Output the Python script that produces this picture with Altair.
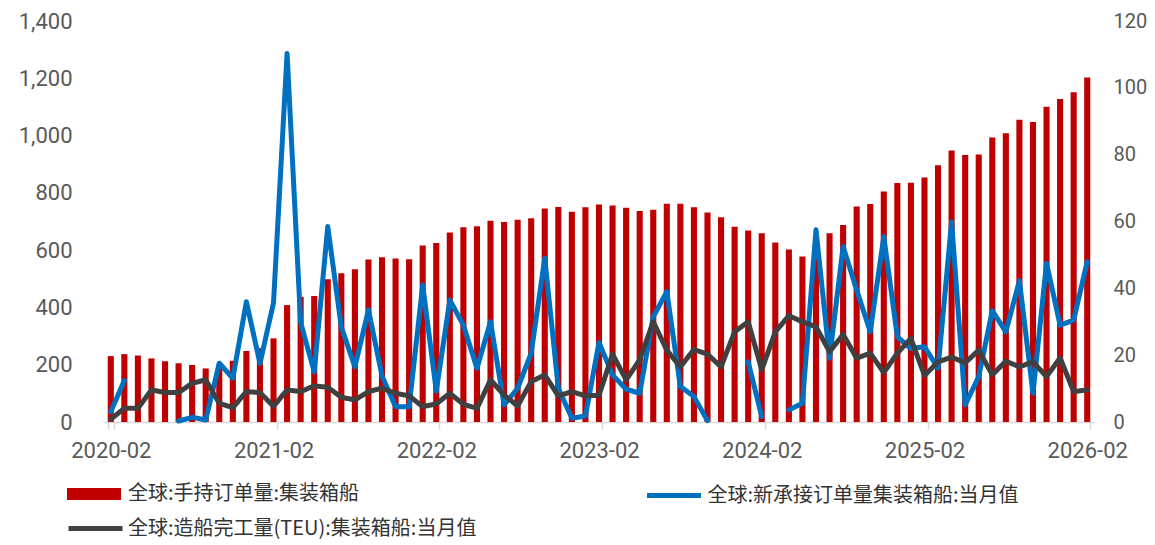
import altair as alt
import pandas as pd

months = [f"{y}-{m:02d}" for y in range(2020, 2027) for m in range(1, 13)][1:74]
tick_labels = ["2020-02", "2021-02", "2022-02", "2023-02", "2024-02", "2025-02", "2026-02"]

hold = [230, 237, 232, 222, 212, 205, 199, 187, 200, 214, 248, 258, 292,
        408, 437, 440, 498, 519, 533, 567, 575, 571, 568, 616, 625,
        662, 680, 683, 703, 698, 706, 711, 745, 751, 734, 750, 759,
        756, 748, 737, 741, 762, 762, 750, 731, 715, 682, 669, 659,
        627, 602, 578, 600, 659, 688, 752, 761, 805, 834, 835, 854,
        896, 948, 932, 934, 993, 1008, 1055, 1047, 1101, 1128, 1151, 1203]

new_orders = [3.1, 12.4, None, None, None, 0.3, 1.4, 0.6, 17.6, 13.1, 36.0, 17.5, 35.7,
              110.3, 29.8, 15.0, 58.5, 28.4, 16.5, 33.6, 13.8, 4.6, 4.6, 41.0, 9.3,
              36.5, 29.0, 16.1, 30.0, 5.1, 10.1, 20.6, 49.0, 10.1, 1.1, 1.8, 23.8,
              14.1, 9.8, 8.6, 31.5, 39.0, 10.6, 7.6, 0.4, None, None, 18.0, 1.6,
              None, 3.6, 5.6, 57.5, 19.1, 52.5, 39.5, 27.0, 55.5, 25.5, 22.0, 22.5,
              16.1, 59.9, 5.1, 13.6, 33.3, 27.0, 42.3, 8.6, 47.5, 29.0, 30.5, 48.0]

completions = [0.8, 4.1, 4.1, 9.6, 8.8, 8.8, 11.6, 12.6, 5.6, 4.3, 9.1, 8.8, 4.7,
               9.6, 9.1, 10.8, 10.4, 7.4, 6.6, 9.1, 10.1, 8.6, 7.8, 4.6, 5.4,
               8.6, 5.3, 4.1, 12.6, 8.1, 4.8, 12.1, 14.1, 7.8, 9.1, 7.8, 8.0,
               20.3, 12.6, 18.6, 30.0, 21.5, 16.5, 21.7, 20.3, 16.5, 27.0, 30.0, 15.6,
               27.0, 31.8, 30.0, 28.5, 21.0, 26.2, 19.1, 20.6, 14.8, 20.6, 25.0, 13.9,
               18.0, 19.4, 17.7, 21.5, 14.1, 18.2, 16.5, 18.0, 13.6, 19.2, 9.1, 9.6]

names = ["全球:手持订单量:集装箱船",
         "全球:新承接订单量集装箱船:当月值",
         "全球:造船完工量(TEU):集装箱船:当月值"]
colors = ["#C00000", "#0070C0", "#404040"]

bar_df = pd.DataFrame({"month": months, "value": hold, "s1": names[0]})
blue_df = pd.DataFrame({"month": months, "value": new_orders, "s2": names[1]})
gray_df = pd.DataFrame({"month": months, "value": completions, "s3": names[2]})

AXIS_FONT = "Roboto"
LABEL_COLOR = "#595959"
LEG_FONT = "Noto Sans CJK SC"

x_enc = alt.X(
    "month:O", sort=months, title=None,
    scale=alt.Scale(paddingInner=0.55, paddingOuter=0.275),
    axis=alt.Axis(values=tick_labels, labelAngle=0, tickBand="extent",
                  domainColor="#D9D9D9", domainWidth=1.5, tickColor="#D9D9D9",
                  tickWidth=1.5, tickSize=7, labelPadding=11, labelFont=AXIS_FONT,
                  labelFontSize=22, labelColor=LABEL_COLOR, grid=False),
)

rect_path = "M-3,-0.667H3V0.667H-3Z"
line_path = "M-3,0H3"
leg_common = dict(title=None, orient="none", symbolSize=324, labelFont=LEG_FONT,
                  labelFontSize=20, labelColor="#333333", labelLimit=800, padding=0)

right_axis = alt.Axis(orient="right", values=list(range(0, 121, 20)), domain=False,
                      ticks=False, grid=False, labelPadding=19, labelFont=AXIS_FONT,
                      labelFontSize=20, labelColor=LABEL_COLOR)

bars = alt.Chart(bar_df).mark_bar().encode(
    x=x_enc,
    y=alt.Y("value:Q", title=None, scale=alt.Scale(domain=[0, 1400]),
            axis=alt.Axis(values=list(range(0, 1401, 200)), format=",d", domain=False,
                          ticks=False, grid=False, labelPadding=32, labelFont=AXIS_FONT,
                          labelFontSize=22, labelColor=LABEL_COLOR)),
    color=alt.Color("s1:N", scale=alt.Scale(domain=[names[0]], range=[colors[0]]),
                    legend=alt.Legend(legendX=-20, legendY=463, symbolType=rect_path,
                                      symbolStrokeWidth=0, labelOffset=24, **leg_common)),
)

blue = alt.Chart(blue_df).mark_line(
    strokeWidth=5, strokeJoin="round", strokeCap="round",
    invalid="break-paths-show-domains",
).encode(
    x=x_enc,
    y=alt.Y("value:Q", title=None, scale=alt.Scale(domain=[0, 120]), axis=right_axis),
    stroke=alt.Stroke("s2:N", scale=alt.Scale(domain=[names[1]], range=[colors[1]]),
                      legend=alt.Legend(legendX=558.5, legendY=463, symbolType=line_path,
                                        symbolStrokeWidth=5, labelOffset=22, **leg_common)),
)

gray = alt.Chart(gray_df).mark_line(
    strokeWidth=5, strokeJoin="round", strokeCap="round", color=colors[2],
    invalid="break-paths-show-domains",
).encode(
    x=x_enc,
    y=alt.Y("value:Q", title=None, scale=alt.Scale(domain=[0, 120]), axis=right_axis),
    strokeDash=alt.StrokeDash("s3:N", scale=alt.Scale(domain=[names[2]], range=[[1, 0]]),
                              legend=alt.Legend(legendX=-20, legendY=496, symbolType=line_path,
                                                symbolStrokeWidth=5, labelOffset=21,
                                                symbolStrokeColor=colors[2], **leg_common)),
)

lines = alt.layer(blue, gray)

chart = alt.layer(bars, lines).resolve_scale(y="independent").properties(
    width=990, height=401,
    padding={"left": 10, "top": 2, "right": 0, "bottom": 0},
).configure_view(stroke=None)

chart.save("out.html", embed_options={"renderer": "svg", "actions": False})
